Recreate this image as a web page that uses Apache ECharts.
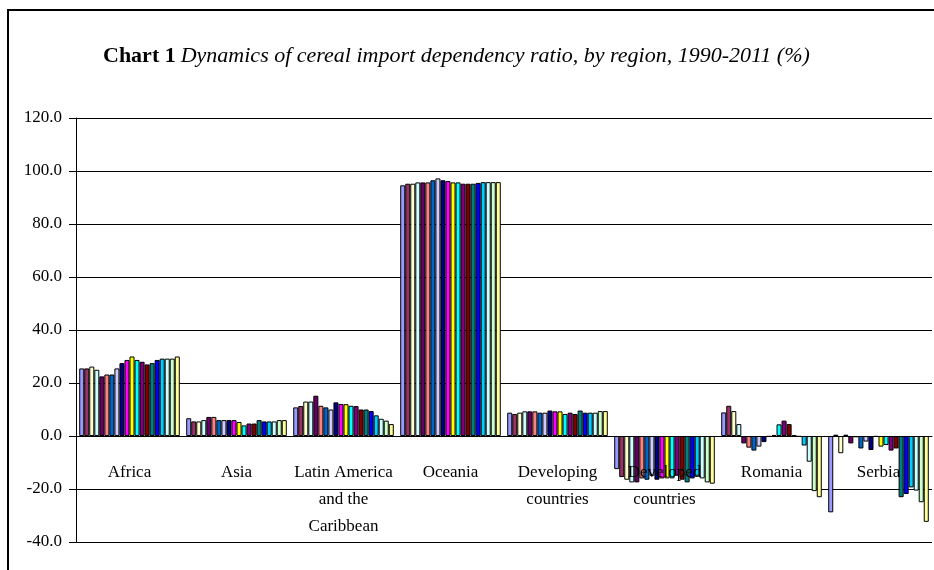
<!DOCTYPE html>
<html>
<head>
<meta charset="utf-8">
<script src="https://cdn.jsdelivr.net/npm/echarts@6/dist/echarts.min.js"></script>
<style>
  html, body { margin: 0; padding: 0; background: #fff; }
  #chart { width: 934px; height: 570px; }
</style>
</head>
<body>
<div id="chart"></div>
<script>
// regions on the category axis
const categories = ['Africa', 'Asia', 'Latin America\nand the\nCaribbean', 'Oceania',
  'Developing\ncountries', 'Developed\ncountries', 'Romania', 'Serbia']

// one value per series (Series 1 .. Series 20) for each region, %
const africa = [25.5, 25.5, 26.2, 25.0, 22.5, 23.2, 23.2, 25.5, 27.5, 28.7, 30.0, 28.7, 28.0, 27.0, 27.5, 28.7, 29.2, 29.2, 29.2, 30.0]
const asia = [6.7, 5.5, 5.5, 6.0, 7.2, 7.2, 6.0, 6.0, 6.0, 6.0, 5.3, 4.0, 4.7, 4.7, 6.0, 5.5, 5.5, 5.5, 6.0, 6.0]
const latinAmerica = [10.8, 11.3, 13.0, 13.0, 15.2, 11.4, 10.8, 10.0, 12.7, 12.1, 12.0, 11.4, 11.3, 10.0, 10.0, 9.4, 7.8, 6.5, 5.8, 4.5]
const oceania = [94.6, 95.2, 95.2, 95.7, 95.7, 95.7, 96.5, 97.2, 96.5, 96.2, 95.7, 95.7, 95.2, 95.2, 95.2, 95.5, 95.8, 95.8, 95.8, 95.8]
const developing = [8.8, 8.3, 8.8, 9.3, 9.3, 9.3, 8.8, 8.8, 9.6, 9.3, 9.3, 8.3, 8.8, 8.3, 9.6, 8.8, 8.8, 8.8, 9.4, 9.4]
const developed = [-12.5, -15.5, -16.5, -17.5, -17.5, -16.0, -16.5, -15.0, -16.5, -16.0, -16.0, -16.0, -15.0, -16.5, -17.5, -16.0, -15.0, -16.0, -17.5, -18.0]
const romania = [8.9, 11.4, 9.4, 4.5, -2.8, -4.4, -5.5, -4.0, -2.3, -0.3, 0.4, 4.4, 5.8, 4.5, 0.2, -0.3, -3.6, -9.7, -20.8, -23.1]
const serbia = [-28.8, 0.5, -6.5, 0.5, -2.8, -0.5, -4.7, -2.1, -5.3, -0.3, -4.0, -3.4, -5.5, -4.7, -23.1, -21.9, -19.4, -20.6, -25.0, -32.4]

const yTicks = [-40, 120, 20] // min, max, step

// excel 2003 default series fills
const colors = ['#9999FF', '#993366', '#FFFFCC', '#CCFFFF', '#660066', '#FF8080', '#0066CC', '#CCCCFF',
  '#000080', '#FF00FF', '#FFFF00', '#00FFFF', '#800080', '#800000', '#008080', '#0000FF',
  '#00CCFF', '#CCFFFF', '#CCFFCC', '#FFFF99']

const regions = [africa, asia, latinAmerica, oceania, developing, developed, romania, serbia]
const serif = '"Liberation Serif", "DejaVu Serif", serif'

const series = colors.map((c, i) => ({
  name: 'Series ' + (i + 1),
  type: 'bar',
  data: regions.map(r => r[i]),
  barGap: '0%',
  barCategoryGap: '6%',
  itemStyle: { color: c, borderColor: '#000', borderWidth: 1 }
}))

// grid edges; the category axis is shifted up to the zero line
const gridTop = 118
const gridBottom = 28
const plotH = 570 - gridTop - gridBottom
const zeroOffset = -plotH * (0 - yTicks[0]) / (yTicks[1] - yTicks[0])

const chart = echarts.init(document.getElementById('chart'))
chart.setOption({
  backgroundColor: '#fff',
  animation: false,
  title: {
    text: '{b|Chart 1} {i|Dynamics of cereal import dependency ratio, by region, 1990-2011 (%)}',
    left: 103,
    top: 45,
    padding: 0,
    textStyle: {
      fontWeight: 'normal',
      rich: {
        b: { fontFamily: serif, fontWeight: 'bold', fontSize: 22, color: '#000' },
        i: { fontFamily: serif, fontStyle: 'italic', fontWeight: 'normal', fontSize: 22, color: '#000' }
      }
    }
  },
  graphic: [{
    type: 'rect',
    shape: { x: 8, y: 10, width: 1000, height: 1000 },
    style: { fill: 'none', stroke: '#000', lineWidth: 2 }
  }],
  grid: { left: 76, right: 2, top: gridTop, bottom: gridBottom, outerBoundsMode: 'none' },
  xAxis: {
    type: 'category',
    data: categories,
    position: 'bottom',
    offset: zeroOffset,
    z: 10,
    axisLine: { onZero: false, lineStyle: { color: '#000', width: 1 } },
    axisTick: { length: 6, lineStyle: { color: '#000' } },
    axisLabel: {
      interval: 0,
      margin: 23,
      fontFamily: serif,
      fontSize: 17,
      lineHeight: 27,
      color: '#000'
    }
  },
  yAxis: {
    type: 'value',
    min: yTicks[0],
    max: yTicks[1],
    interval: yTicks[2],
    axisLine: { show: true, lineStyle: { color: '#000', width: 1 } },
    axisTick: { show: true, length: 7, lineStyle: { color: '#000' } },
    axisLabel: {
      margin: 14,
      fontFamily: serif,
      fontSize: 17,
      color: '#000',
      formatter: v => v.toFixed(1)
    },
    splitLine: { lineStyle: { color: '#000', width: 1 } }
  },
  series: series
})
</script>
</body>
</html>
